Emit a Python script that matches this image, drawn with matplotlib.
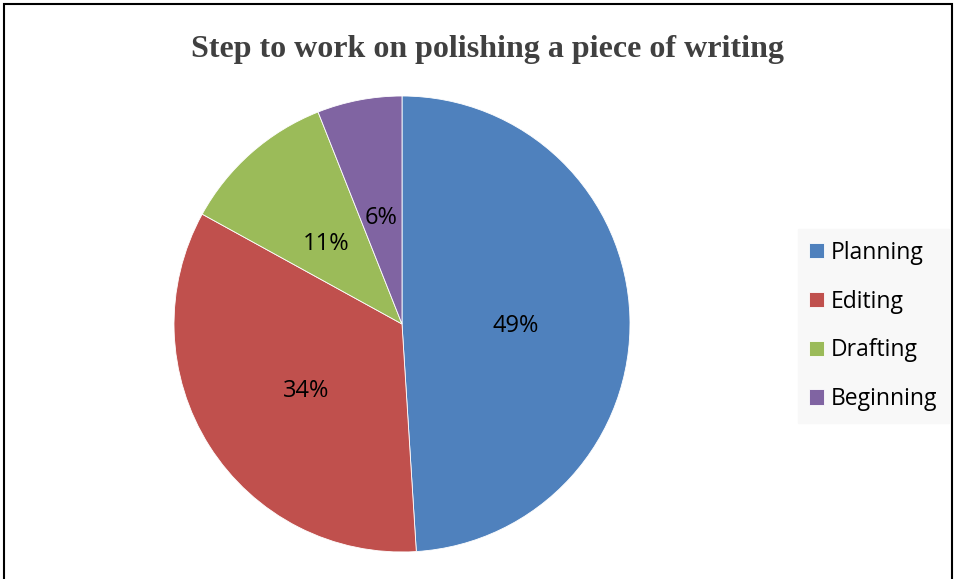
import matplotlib.pyplot as plt
from matplotlib.patches import Rectangle

# chart data
steps = ["Planning", "Editing", "Drafting", "Beginning"]
shares = [49, 34, 11, 6]
colors = ["#4F81BD", "#C0504D", "#9BBB59", "#8064A2"]

W, H = 955, 579
fig = plt.figure(figsize=(W / 100, H / 100), dpi=100)

# outer frame of the chart area
fig.patches.append(Rectangle((4 / W, -0.05), (952 - 4) / W, 1.05 - 4 / H,
                             transform=fig.transFigure, fill=False,
                             edgecolor="black", linewidth=1.5))

fig.text(487 / W, 1 - 49 / H, "Step to work on polishing a piece of writing",
         ha="center", va="center", fontsize=23, fontweight="bold",
         family="Liberation Serif", color="#404040")

# pie axes: centre (402, 324), radius 228 px
cx, cy, r = 402, 324, 228
ax = fig.add_axes([(cx - r) / W, (H - cy - r) / H, 2 * r / W, 2 * r / H])
wedges, texts, autotexts = ax.pie(
    shares, colors=colors, startangle=90, counterclock=False,
    autopct="%d%%", pctdistance=0.5, radius=1,
    wedgeprops=dict(edgecolor="white", linewidth=0.6),
    textprops=dict(fontsize=17, family="Open Sans", color="black"))
for t in autotexts:
    x, y = t.get_position()
    t.set_position((x, y - 0.025))
ax.set_xlim(-1, 1)
ax.set_ylim(-1, 1)
ax.set_aspect("equal")

leg = fig.legend(wedges, steps, loc="center left",
                 bbox_to_anchor=(798 / W, 1 - 326 / H),
                 frameon=True, fancybox=False, framealpha=1,
                 facecolor="#F8F8F8", edgecolor="#F8F8F8",
                 prop=dict(family="Open Sans", size=16.5),
                 handlelength=0.65, handleheight=0.65, handletextpad=0.3,
                 labelspacing=1.08, borderpad=0.5, borderaxespad=0)

fig.savefig("out.png", dpi=100)
